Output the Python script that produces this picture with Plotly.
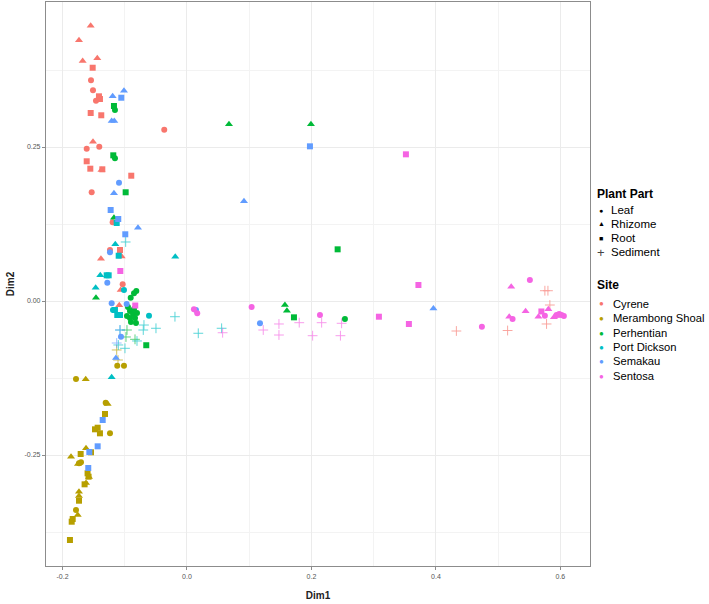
import plotly.graph_objects as go

# ---------------- data (Dim1, Dim2, plant part) ----------------
SITES = ["Cyrene", "Merambong Shoal", "Perhentian", "Port Dickson", "Semakau", "Sentosa"]
SITE_COLORS = ["#F8766D", "#B79F00", "#00BA38", "#00BFC4", "#619CFF", "#F564E3"]
PARTS = ["Leaf", "Rhizome", "Root", "Sediment"]

CYRENE_X = [-0.1542, -0.151, -0.1462, -0.0365, -0.1611, -0.1409, -0.1531, -0.1194, -0.1237, -0.1033,
            -0.1547, -0.1735, -0.1676, -0.1441, -0.151, -0.1382, -0.1049, -0.1065, -0.1088, -0.1374,
            -0.1515, -0.1414, -0.1398, -0.1547, -0.1377, -0.1611, -0.1553, -0.136, -0.0895, -0.1076,
            0.4329, 0.5152, 0.5751, 0.58, 0.5831, 0.5778]
CYRENE_Y = [0.3583, 0.342, 0.3252, 0.2781, 0.2472, 0.2505, 0.1765, 0.1278, 0.0828, 0.0271,
            0.447, 0.4232, 0.3896, 0.394, 0.2586, 0.0687, 0.0722, 0.0179, -0.007, 0.2127,
            0.3787, 0.3323, 0.3279, 0.3052, 0.3015, 0.2268, 0.2148, 0.2138, 0.2034, 0.0828,
            -0.0487, -0.0479, 0.0167, 0.0167, -0.0065, -0.0373]
CYRENE_PART = ["Leaf"] * 10 + ["Rhizome"] * 10 + ["Root"] * 10 + ["Sediment"] * 6

MERAMBONG_X = [-0.1783, -0.112, -0.1012, -0.1306, -0.1237, -0.1735, -0.1703, -0.1783,
               -0.1627, -0.1274, -0.1622, -0.1863, -0.1751, -0.1574, -0.1622, -0.1735, -0.1735, -0.1755,
               -0.1317, -0.1478, -0.1435, -0.1398, -0.1708, -0.1542, -0.1597, -0.1581, -0.1645, -0.1735,
               -0.1836, -0.1852, -0.188,
               -0.1129, -0.1108]
MERAMBONG_Y = [-0.1266, -0.105, -0.105, -0.1651, -0.2148, -0.2635, -0.2619, -0.3393,
               -0.1271, -0.1672, -0.2391, -0.2528, -0.2646, -0.2857, -0.2955, -0.3096, -0.3166, -0.3474,
               -0.1834, -0.2083, -0.2057, -0.2148, -0.2484, -0.2456, -0.2797, -0.2852, -0.2976, -0.3242,
               -0.3539, -0.3583, -0.388,
               -0.0795, -0.0958]
MERAMBONG_PART = ["Leaf"] * 8 + ["Rhizome"] * 10 + ["Root"] * 13 + ["Sediment"] * 2

PERHENTIAN_X = [-0.1157, -0.1157, -0.0814, -0.0851, -0.0904, -0.0948, -0.0916, -0.0867, -0.0916,
                -0.0835, -0.09, -0.0819, -0.0964, -0.0851, -0.0803, 0.2538,
                -0.1173, -0.1462, 0.0675, 0.1992, 0.1574, 0.1606,
                -0.1173, -0.1184, -0.0985, -0.0654, 0.1719, 0.2421,
                -0.098, -0.0835, -0.0964]
PERHENTIAN_Y = [0.31, 0.2317, 0.0162, 0.0125, 0.0054, -0.0097, -0.0162, -0.0211, -0.0276,
                -0.0276, -0.0341, -0.0357, -0.0244, -0.013, -0.0195, -0.0292,
                0.1352, 0.0054, 0.2869, 0.2869, -0.0065, -0.0157,
                0.3166, 0.2365, 0.1765, -0.0718, -0.0265, 0.0839,
                -0.0584, -0.0622, -0.0471]
PERHENTIAN_PART = ["Leaf"] * 16 + ["Rhizome"] * 6 + ["Root"] * 6 + ["Sediment"] * 3

PORTDICKSON_X = [-0.1012, -0.061, -0.1189,
                 -0.121, -0.0188, -0.1152, -0.1393, -0.1467,
                 -0.1129, -0.1097, -0.129, -0.1258, -0.1157, -0.112, -0.1076,
                 -0.0985, -0.0193, -0.0498, -0.0691, -0.0702, -0.1076, -0.1103, -0.0996, -0.0803,
                 0.0182, 0.0557]
PORTDICKSON_Y = [0.0179, -0.0239, -0.0146,
                 -0.1239, 0.0719, 0.092, 0.0417, 0.0216,
                 0.1266, 0.0735, 0.0417, 0.0417, -0.0146, -0.0227, -0.0227,
                 0.0958, -0.0255, -0.0443, -0.039, -0.0471, -0.0471, -0.0714, -0.0768, -0.0649,
                 -0.0524, -0.0443]
PORTDICKSON_PART = ["Leaf"] * 3 + ["Rhizome"] * 5 + ["Root"] * 7 + ["Sediment"] * 11

SEMAKAU_X = [-0.1092, -0.1237, -0.128, -0.121, -0.0969, -0.106, 0.0145, 0.1173,
             -0.1194, -0.1012, -0.121, -0.1168, -0.1173, -0.0787, 0.0916, 0.396, -0.1141,
             -0.1055, -0.1226, -0.1104, -0.0991, 0.1976, -0.1354, -0.1435, -0.1569, -0.1586,
             -0.1076, -0.1129]
SEMAKAU_Y = [0.192, 0.0791, 0.0297, -0.0037, -0.0049, -0.058, -0.0146, -0.0362,
             0.3323, 0.3414, 0.2922, 0.2922, 0.1748, 0.119, 0.1619, -0.0122, -0.0925,
             0.33, 0.1477, 0.1331, 0.1083, 0.2511, -0.1932, -0.2359, -0.2451, -0.2711,
             -0.0471, -0.0682]
SEMAKAU_PART = ["Leaf"] * 8 + ["Rhizome"] * 9 + ["Root"] * 9 + ["Sediment"] * 2

SENTOSA_X = [0.0112, 0.0165, 0.1039, 0.2137, 0.4739, 0.551, 0.5232, 0.5751, 0.5939, 0.5981, 0.6019, 0.6056,
             0.521, 0.5178, 0.5441, 0.5647, 0.5807, 0.5896, 0.5944,
             -0.1071, -0.0831, 0.3518, 0.3719, 0.3084, 0.3566, 0.5695,
             0.0573, 0.1226, 0.1478, 0.1478, 0.1804, 0.2019, 0.2164, 0.2485, 0.2466]
SENTOSA_Y = [-0.0135, -0.02, -0.0097, -0.0227, -0.0417, 0.0341, -0.0292, -0.0239, -0.0227, -0.0211, -0.0227, -0.0244,
             0.0232, -0.0255, -0.0167, -0.0255, -0.0135, -0.0265, -0.0244,
             0.0487, -0.0073, 0.2381, 0.026, -0.0255, -0.0373, -0.017,
             -0.0515, -0.0471, -0.0373, -0.0552, -0.0352, -0.0563, -0.0352, -0.0362, -0.0563]
SENTOSA_PART = ["Leaf"] * 12 + ["Rhizome"] * 7 + ["Root"] * 7 + ["Sediment"] * 9

X_TICKS = [-0.2, 0.0, 0.2, 0.4, 0.6]
Y_TICKS = [-0.25, 0.0, 0.25]

SITE_DATA = [
    (CYRENE_X, CYRENE_Y, CYRENE_PART),
    (MERAMBONG_X, MERAMBONG_Y, MERAMBONG_PART),
    (PERHENTIAN_X, PERHENTIAN_Y, PERHENTIAN_PART),
    (PORTDICKSON_X, PORTDICKSON_Y, PORTDICKSON_PART),
    (SEMAKAU_X, SEMAKAU_Y, SEMAKAU_PART),
    (SENTOSA_X, SENTOSA_Y, SENTOSA_PART),
]

# ---------------- styling ----------------
SYMBOLS = {"Leaf": "circle", "Rhizome": "triangle-up", "Root": "square", "Sediment": "cross-thin-open"}
SIZES = {"Leaf": 6, "Rhizome": 7, "Root": 6, "Sediment": 7}
FONT = "Liberation Sans, Arial, Helvetica, sans-serif"

W, H = 709, 604
L, R, T, B = 46, 590, 2, 566

fig = go.Figure()
for site, color, (xs, ys, parts) in zip(SITES, SITE_COLORS, SITE_DATA):
    for part in PARTS:
        px = [x for x, p in zip(xs, parts) if p == part]
        py = [y for y, p in zip(ys, parts) if p == part]
        if not px:
            continue
        sed = part == "Sediment"
        fig.add_trace(go.Scatter(
            x=px, y=py, mode="markers", name=f"{site} {part}", showlegend=False,
            opacity=0.7 if sed else 1.0,
            marker=dict(symbol=SYMBOLS[part], size=SIZES[part], color=color,
                        line=dict(width=0.9 if sed else 0, color=color)),
        ))


def paper(px, py):
    return (px - L) / (R - L), (B - py) / (B - T)


annotations = []


def add_text(text, px, py, size, bold=False, color="#000000", xanchor="left"):
    x, y = paper(px, py)
    annotations.append(dict(
        x=x, y=y, xref="paper", yref="paper", text=f"<b>{text}</b>" if bold else text,
        showarrow=False, xanchor=xanchor, yanchor="middle",
        font=dict(family=FONT, size=size, color=color),
    ))


# Legend: Plant Part
add_text("Plant Part", 595, 194, 12, bold=True)
part_glyphs = {"Leaf": ("●", 7), "Rhizome": ("▲", 7), "Root": ("■", 7), "Sediment": ("+", 13)}
part_rows = [210, 224, 238, 252]
for part, yy in zip(PARTS, part_rows):
    g, s = part_glyphs[part]
    add_text(g, 601, yy, s, color="#000000" if part != "Sediment" else "#444444", xanchor="center")
    add_text(part, 609, yy, 11.5)

# Legend: Site
add_text("Site", 595, 285, 12, bold=True)
site_rows = [304, 318, 333, 347, 361, 376]
for site, color, yy in zip(SITES, SITE_COLORS, site_rows):
    add_text("●", 601, yy, 8, color=color, xanchor="center")
    add_text(site, 611, yy, 11.2)

fig.update_layout(
    width=W, height=H,
    margin=dict(l=L, r=W - R, t=T, b=H - B, pad=0),
    paper_bgcolor="white", plot_bgcolor="white",
    font=dict(family=FONT),
    annotations=annotations,
    showlegend=False,
)

axis_common = dict(
    showline=True, linecolor="#8c8c8c", linewidth=1.2, mirror=True,
    gridcolor="#ebebeb", gridwidth=1, zeroline=False,
    ticks="outside", ticklen=3, tickcolor="#8c8c8c", tickwidth=1,
    tickfont=dict(family=FONT, size=7, color="#555555"),
    automargin=False,
)

fig.update_xaxes(
    **axis_common, range=[-0.2265, 0.6476], tickvals=X_TICKS,
    ticktext=[f"{v:.1f}" for v in X_TICKS],
    minor=dict(dtick=0.1, tick0=0, showgrid=True, gridcolor="#f3f3f3", ticks=""),
    title=dict(text="<b>Dim1</b>", font=dict(family=FONT, size=10, color="#222222"), standoff=13),
)
fig.update_yaxes(
    **axis_common, range=[-0.4302, 0.4854], tickvals=Y_TICKS,
    ticktext=[f"{v:.2f}" for v in Y_TICKS],
    minor=dict(dtick=0.125, tick0=0.125, showgrid=True, gridcolor="#f3f3f3", ticks=""),
    title=dict(text="<b>Dim2</b>", font=dict(family=FONT, size=10, color="#222222"), standoff=8),
)

fig.write_html(
    "out.html",
    config={"displayModeBar": False},
    post_script="document.body.style.margin='0';document.body.style.overflow='hidden';",
)
